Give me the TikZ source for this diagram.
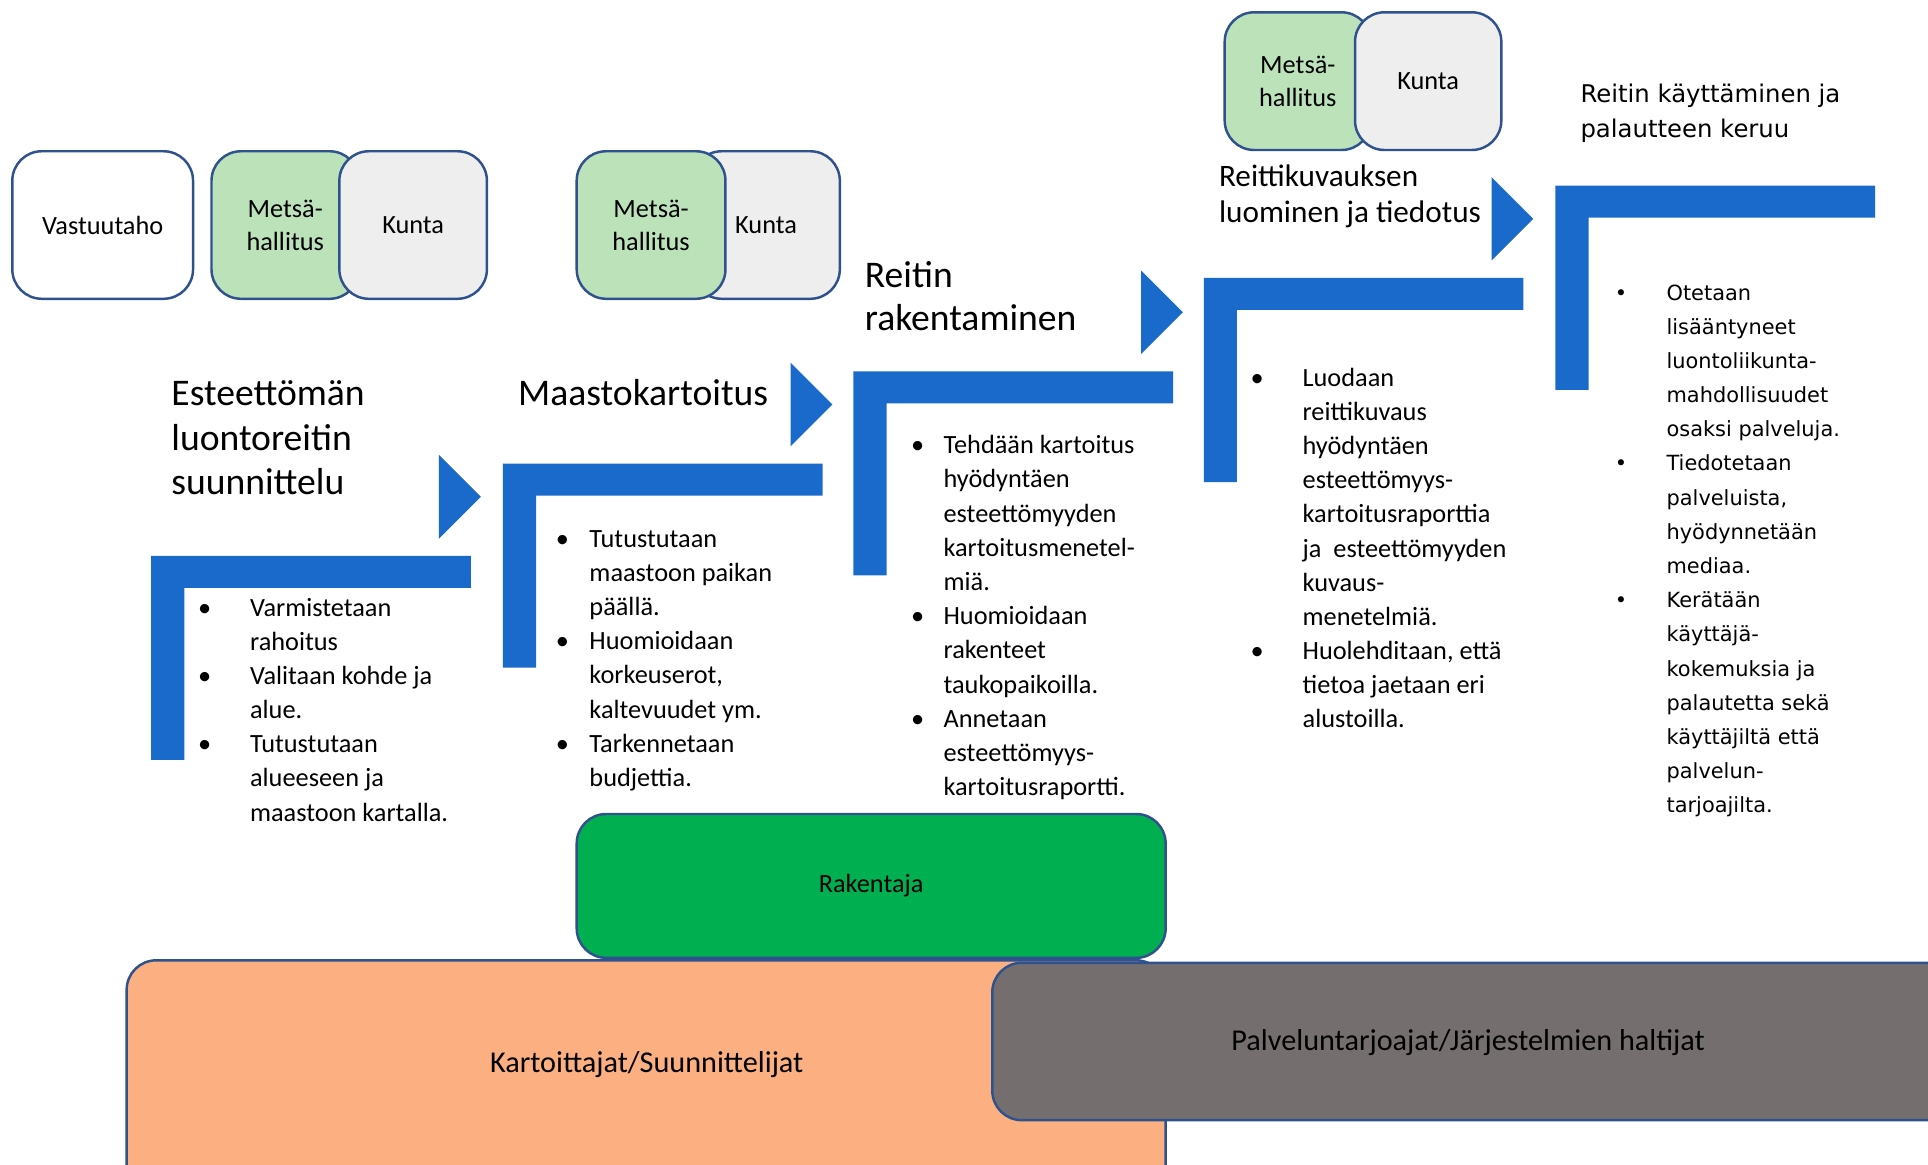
\documentclass[tikz,border=0pt]{standalone}
\usepackage{fontspec}
\setmainfont{Carlito}
\newfontfamily\wfont{DejaVu Sans}
\definecolor{stepblue}{RGB}{26,106,203}
\definecolor{lgreen}{RGB}{188,226,186}
\definecolor{lgray}{RGB}{238,238,238}
\definecolor{bord}{RGB}{47,82,143}
\definecolor{dgreen}{RGB}{0,176,80}
\definecolor{orng}{RGB}{252,175,128}
\definecolor{dgray}{RGB}{117,110,110}
\newcommand\bu[1]{\llap{\makebox[0pt]{\textbullet}\hspace{#1}}}
\begin{document}
\begin{tikzpicture}[x=0.5pt,y=-0.5pt,
  box/.style={draw=bord, line width=1pt, rounded corners=12pt, align=center, inner sep=0pt, font=\fontsize{10.7}{13.5}\selectfont},
  body/.style={anchor=base west, inner sep=0pt, font=\fontsize{10.7}{14}\selectfont},
  bodyw/.style={anchor=base west, inner sep=0pt, font=\wfont\fontsize{8.5}{14}\selectfont},
  ttl/.style={anchor=base west, inner sep=0pt, font=\fontsize{15.3}{18}\selectfont},
  ttlb/.style={anchor=base west, inner sep=0pt, font=\fontsize{12.7}{15}\selectfont},
  ttlw/.style={anchor=base west, inner sep=0pt, font=\wfont\fontsize{9.9}{14}\selectfont},
  big/.style={inner sep=0pt, font=\fontsize{12.3}{14}\selectfont}]
\clip (0,0) rectangle (1568,947);
% blue steps
\foreach \x/\y in {123/452, 409/377, 694/302, 979/226, 1265/151}
  \fill[stepblue] (\x,\y) -- ++(260,0) -- ++(0,26) -- ++(-233,0) -- ++(0,140) -- ++(-27,0) -- cycle;
\foreach \x/\y in {123/452, 409/377, 694/302, 979/226}
  \fill[stepblue] ({\x+234},{\y-82}) -- ({\x+268},{\y-48}) -- ({\x+234},{\y-14}) -- cycle;
% top boxes
\node[box, fill=white, minimum width=73.5pt, minimum height=60pt] (vast) at (83.5,183) {Vastuutaho};
\node[box, fill=lgreen, minimum width=60pt, minimum height=60pt] (mh1) at (232,183) {Metsä-\\hallitus};
\node[box, fill=lgray, minimum width=60pt, minimum height=60pt] (ku1) at (336,183) {Kunta};
\node[box, fill=lgray, minimum width=60pt, minimum height=60pt] (ku2) at (623,183) {Kunta};
\node[box, fill=lgreen, minimum width=60.5pt, minimum height=60pt] (mh2) at (529.5,183) {Metsä-\\hallitus};
\node[box, fill=lgreen, minimum width=59.5pt, minimum height=56pt] (mh3) at (1055.5,66) {Metsä-\\hallitus};
\node[box, fill=lgray, minimum width=59.5pt, minimum height=56pt] (ku3) at (1161.5,66) {Kunta};
% bottom boxes
\node[box, fill=dgreen, minimum width=239.5pt, minimum height=58.5pt] (rak) at (708.5,720.5) {Rakentaja};
\node[box, fill=orng, minimum width=422.5pt, minimum height=115pt] (kart) at (525.5,896) {};
\node[big] (kartT) at (526,866) {Kartoittajat/Suunnittelijat};
\node[box, fill=dgray, minimum width=406.5pt, minimum height=64pt] (palv) at (1213.5,847) {};
\node[big] (palvT) at (1194,848) {Palveluntarjoajat/Järjestelmien haltijat};
% titles
\node[ttl] (t1a) at (139,330) {Esteettömän};
\node[ttl] (t1b) at (139,366) {luontoreitin};
\node[ttl] (t1c) at (139,402) {suunnittelu};
\node[ttl] (t2) at (421,330) {Maastokartoitus};
\node[ttl] (t3a) at (703,234) {Reitin};
\node[ttl] (t3b) at (703,269) {rakentaminen};
\node[ttlb] (t4a) at (991,152) {Reittikuvauksen};
\node[ttlb] (t4b) at (991,181) {luominen ja tiedotus};
\node[ttlw] (t5a) at (1285,83) {Reitin käyttäminen ja};
\node[ttlw] (t5b) at (1285,112) {palautteen keruu};
% bullet texts
\foreach \t [count=\i from 0] in {{\bu{18.5pt}Varmistetaan}, rahoitus, {\bu{18.5pt}Valitaan kohde ja}, alue., {\bu{18.5pt}Tutustutaan}, alueeseen ja, maastoon kartalla.}
  \node[body] (a\i) at (203,{501+27.8*\i}) {\t};
\foreach \t [count=\i from 0] in {{\bu{11pt}Tutustutaan}, maastoon paikan, päällä., {\bu{11pt}Huomioidaan}, {korkeuserot,}, kaltevuudet ym., {\bu{11pt}Tarkennetaan}, budjettia.}
  \node[body] (b\i) at (479,{445+27.8*\i}) {\t};
\foreach \t [count=\i from 0] in {{\bu{10.5pt}Tehdään kartoitus}, hyödyntäen, esteettömyyden, kartoitusmenetel-, miä., {\bu{10.5pt}Huomioidaan}, rakenteet, taukopaikoilla., {\bu{10.5pt}Annetaan}, esteettömyys-, kartoitusraportti.}
  \node[body] (c\i) at (767,{369+27.8*\i}) {\t};
\foreach \t [count=\i from 0] in {{\bu{18.5pt}Luodaan}, reittikuvaus, hyödyntäen, esteettömyys-, kartoitusraporttia, {ja~ esteettömyyden}, kuvaus-, menetelmiä., {\bu{18.5pt}Huolehditaan, että}, tietoa jaetaan eri, alustoilla.}
  \node[body] (d\i) at (1059,{314+27.8*\i}) {\t};
\foreach \t [count=\i from 0] in {{\bu{18.5pt}Otetaan}, lisääntyneet, luontoliikunta-, mahdollisuudet, osaksi palveluja., {\bu{18.5pt}Tiedotetaan}, {palveluista,}, hyödynnetään, mediaa., {\bu{18.5pt}Kerätään}, käyttäjä-, kokemuksia ja, palautetta sekä, käyttäjiltä että, palvelun-, tarjoajilta.}
  \node[bodyw] (e\i) at (1355,{244+27.8*\i}) {\t};
\end{tikzpicture}
\end{document}
